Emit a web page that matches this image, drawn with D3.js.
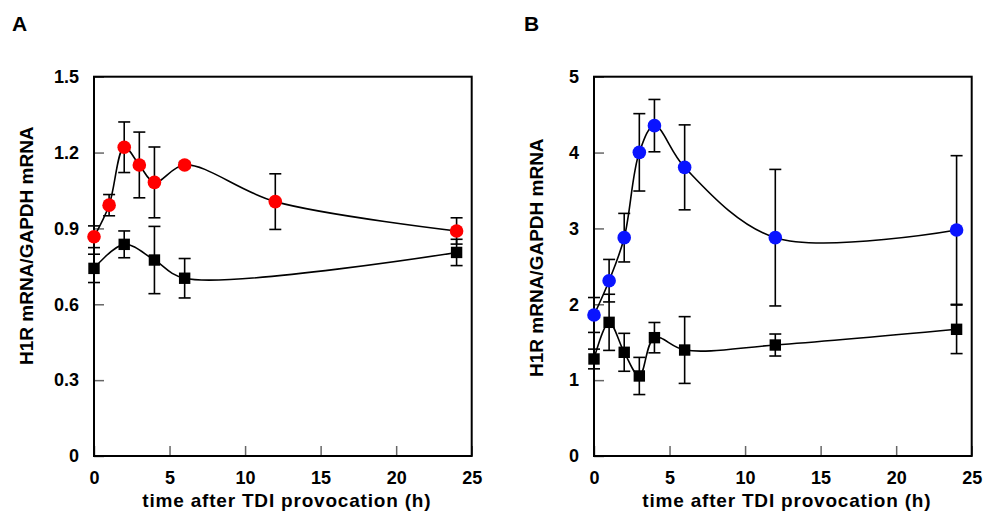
<!DOCTYPE html>
<html>
<head>
<meta charset="utf-8">
<script src="https://cdn.jsdelivr.net/npm/d3@7"></script>
<style>
  body { margin: 0; background: #fff; }
  text { font-family: "Liberation Sans", Arial, Helvetica, sans-serif; font-weight: bold; }
</style>
</head>
<body>
<script>
// panel A: H1R mRNA after TDI provocation
var timeA1 = [0, 1, 2, 3, 4, 6, 12, 24];
var redA = [0.867, 0.992, 1.221, 1.151, 1.082, 1.151, 1.006, 0.890];
var redErrA = [0.043, 0.042, 0.10, 0.13, 0.14, 0.01, 0.11, 0.052];

var timeA2 = [0, 2, 4, 6, 24];
var blackA = [0.742, 0.837, 0.775, 0.703, 0.805];
var blackErrA = [0.056, 0.053, 0.133, 0.078, 0.052];

// panel B
var timeB = [0, 1, 2, 3, 4, 6, 12, 24];
var blueB = [1.859, 2.311, 2.878, 4.003, 4.355, 3.805, 2.878, 2.979];
var blueErrB = [0.23, 0.28, 0.32, 0.51, 0.345, 0.56, 0.90, 0.98];
var blackB = [1.279, 1.762, 1.367, 1.055, 1.560, 1.397, 1.463, 1.670];
var blackErrB = [0.13, 0.37, 0.25, 0.245, 0.20, 0.44, 0.145, 0.32];

var xTicks = [0, 5, 10, 15, 20, 25];
var yTicksA = [0, 0.3, 0.6, 0.9, 1.2, 1.5];
var yTicksB = [0, 1, 2, 3, 4, 5];

var xTitle = "time after TDI provocation (h)";
var yTitle = "H1R mRNA/GAPDH mRNA";

var width = 377.7;
var height = 379.3;

var svg = d3.select("body").append("svg")
  .attr("width", 995)
  .attr("height", 524);

function zip(xs, ys, es) {
  return xs.map(function(x, i) { return {x: x, y: ys[i], e: es[i]}; });
}

function panel(opts) {
  var g = svg.append("g")
    .attr("transform", "translate(" + opts.left + "," + opts.top + ")");

  var x = d3.scaleLinear().domain([0, 25]).range([0, width]);
  var y = d3.scaleLinear().domain([0, opts.ymax]).range([height, 0]);

  var xAxis = d3.axisBottom(x).tickValues(xTicks).tickSize(-10).tickPadding(15);
  var yAxis = d3.axisLeft(y).tickValues(opts.yTicks).tickSize(-10).tickPadding(15)
    .tickFormat(opts.fmt);

  var gx = g.append("g")
    .attr("transform", "translate(0," + height + ")")
    .call(xAxis);
  var gy = g.append("g").call(yAxis);

  [gx, gy].forEach(function(a) {
    a.select(".domain").remove();
    a.selectAll(".tick line").attr("stroke", "#666").attr("stroke-width", 1.5);
    a.selectAll(".tick text")
      .attr("fill", "#000")
      .style("font-size", "18px")
      .style("font-family", "'Liberation Sans', Arial, sans-serif")
      .style("font-weight", "bold");
  });

  g.append("rect")
    .attr("width", width)
    .attr("height", height)
    .attr("fill", "none")
    .attr("stroke", "#000")
    .attr("stroke-width", 2);

  var line = d3.line()
    .x(function(d) { return x(d.x); })
    .y(function(d) { return y(d.y); })
    .curve(d3.curveCatmullRom);

  opts.series.forEach(function(s) {
    g.append("path")
      .datum(s.data)
      .attr("fill", "none")
      .attr("stroke", "#000")
      .attr("stroke-width", 1.6)
      .attr("d", line);
  });

  // error bars
  opts.series.forEach(function(s) {
    var eb = g.append("g").selectAll("g").data(s.data).enter().append("g")
      .attr("stroke", "#000").attr("stroke-width", 1.6);
    eb.append("line")
      .attr("x1", function(d) { return x(d.x); })
      .attr("x2", function(d) { return x(d.x); })
      .attr("y1", function(d) { return y(d.y + d.e); })
      .attr("y2", function(d) { return y(d.y - d.e); });
    [1, -1].forEach(function(sign) {
      eb.append("line")
        .attr("x1", function(d) { return x(d.x) - 6; })
        .attr("x2", function(d) { return x(d.x) + 6; })
        .attr("y1", function(d) { return y(d.y + sign * d.e); })
        .attr("y2", function(d) { return y(d.y + sign * d.e); });
    });
  });

  // markers
  opts.series.forEach(function(s) {
    var m = g.append("g").selectAll(".m").data(s.data).enter();
    if (s.shape === "circle") {
      m.append("circle")
        .attr("cx", function(d) { return x(d.x); })
        .attr("cy", function(d) { return y(d.y); })
        .attr("r", 6.8)
        .attr("fill", s.color);
    } else {
      m.append("rect")
        .attr("x", function(d) { return x(d.x) - 5.7; })
        .attr("y", function(d) { return y(d.y) - 5.7; })
        .attr("width", 11.4)
        .attr("height", 11.4)
        .attr("fill", s.color);
    }
  });

  g.append("text")
    .attr("x", width / 2 + 4)
    .attr("y", height + 51)
    .attr("text-anchor", "middle")
    .style("font-size", "19px")
    .style("letter-spacing", "0.8px")
    .text(xTitle);

  g.append("text")
    .attr("transform", "translate(" + opts.ytitleX + "," + opts.ytitleY + ") rotate(-90)")
    .attr("text-anchor", "middle")
    .style("font-size", "19px")
    .text(yTitle);

  svg.append("text")
    .attr("x", opts.labelX)
    .attr("y", 31)
    .style("font-size", "21px")
    .text(opts.label);
}

panel({
  left: 94, top: 76.7, ymax: 1.5, yTicks: yTicksA, label: "A", labelX: 12,
  ytitleX: -61, ytitleY: 169,
  fmt: function(d) { return d === 0 ? "0" : d3.format(".1f")(d); },
  series: [
    {data: zip(timeA2, blackA, blackErrA), shape: "square", color: "#000"},
    {data: zip(timeA1, redA, redErrA), shape: "circle", color: "#ff0000"}
  ]
});

panel({
  left: 594, top: 76.7, ymax: 5, yTicks: yTicksB, label: "B", labelX: 524,
  ytitleX: -51, ytitleY: 181,
  fmt: d3.format("d"),
  series: [
    {data: zip(timeB, blackB, blackErrB), shape: "square", color: "#000"},
    {data: zip(timeB, blueB, blueErrB), shape: "circle", color: "#0a14ff"}
  ]
});
</script>
</body>
</html>
